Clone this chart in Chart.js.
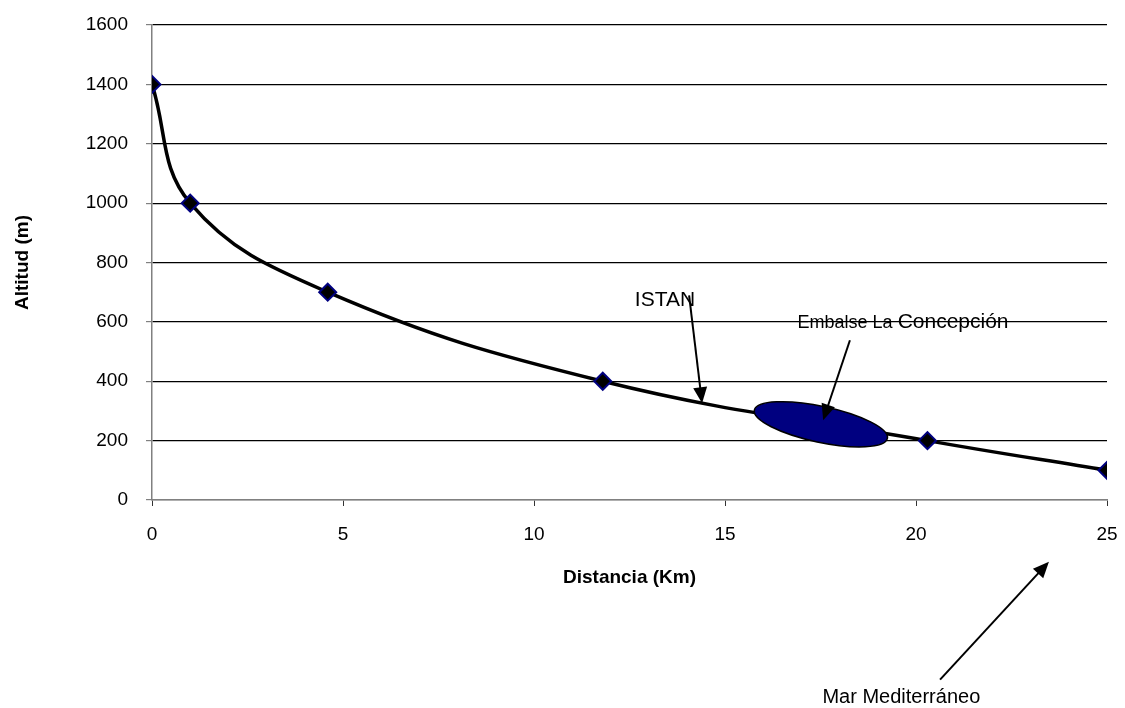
<!DOCTYPE html>
<html>
<head>
<meta charset="utf-8">
<script src="https://cdn.jsdelivr.net/npm/chart.js@4/dist/chart.umd.min.js"></script>
<style>
  body { margin: 0; background: #fff; }
</style>
</head>
<body>
<canvas id="perfil" width="1125" height="708"></canvas>
<script>
// Perfil del río: distancia recorrida (km) y altitud (m)
const distancia = [0, 1.0, 4.6, 11.8, 20.3, 25];
const altitud = [1400, 1000, 700, 400, 200, 100];

const ticksX = [0, 5, 10, 15, 20, 25];
const ticksY = [0, 200, 400, 600, 800, 1000, 1200, 1400, 1600];

// Rótulos y flechas, en unidades de los ejes
const rotulos = [
    { partes: [['ISTAN', 21]], x: 12.64, y: 655 },
    { partes: [['Embalse La ', 18], ['Concepción', 21]], x: 16.9, y: 578 },
    { partes: [['Mar Mediterráneo', 20]], x: 17.55, y: -685 }
];
const flechas = [
    { desde: [14.06, 689], hasta: [14.4, 326] },
    { desde: [18.27, 538], hasta: [17.57, 269] },
    { desde: [20.63, -605], hasta: [23.48, -208] }
];
const embalse = { x: 17.51, y: 255 };

const fuente = "'Liberation Sans', Arial, sans-serif";
Chart.defaults.font.family = fuente;
Chart.defaults.color = '#000';

function flecha(ctx, x1, y1, x2, y2) {
    const ang = Math.atan2(y2 - y1, x2 - x1);
    const largo = 16, ancho = 7;
    ctx.beginPath();
    ctx.moveTo(x1, y1);
    ctx.lineTo(x2 - Math.cos(ang) * largo * 0.8, y2 - Math.sin(ang) * largo * 0.8);
    ctx.lineWidth = 2;
    ctx.strokeStyle = '#000';
    ctx.stroke();
    ctx.beginPath();
    ctx.moveTo(x2, y2);
    ctx.lineTo(x2 - Math.cos(ang) * largo + Math.sin(ang) * ancho, y2 - Math.sin(ang) * largo - Math.cos(ang) * ancho);
    ctx.lineTo(x2 - Math.cos(ang) * largo - Math.sin(ang) * ancho, y2 - Math.sin(ang) * largo + Math.cos(ang) * ancho);
    ctx.closePath();
    ctx.fillStyle = '#000';
    ctx.fill();
}

const anotaciones = {
    id: 'anotaciones',
    afterDatasetsDraw(chart) {
        const ctx = chart.ctx;
        const sx = chart.scales.x, sy = chart.scales.y;
        ctx.save();

        // embalse (elipse azul sobre el perfil)
        ctx.beginPath();
        ctx.ellipse(sx.getPixelForValue(embalse.x), sy.getPixelForValue(embalse.y), 68, 18, 12 * Math.PI / 180, 0, Math.PI * 2);
        ctx.fillStyle = '#000080';
        ctx.fill();
        ctx.lineWidth = 1.5;
        ctx.strokeStyle = '#000';
        ctx.stroke();

        flechas.forEach(f => {
            flecha(ctx,
                sx.getPixelForValue(f.desde[0]), sy.getPixelForValue(f.desde[1]),
                sx.getPixelForValue(f.hasta[0]), sy.getPixelForValue(f.hasta[1]));
        });

        ctx.fillStyle = '#000';
        ctx.textBaseline = 'alphabetic';
        ctx.textAlign = 'left';
        rotulos.forEach(r => {
            let px = sx.getPixelForValue(r.x);
            const py = sy.getPixelForValue(r.y);
            r.partes.forEach(([txt, size]) => {
                ctx.font = size + 'px ' + fuente;
                ctx.fillText(txt, px, py);
                px += ctx.measureText(txt).width;
            });
        });
        ctx.restore();
    }
};

new Chart(document.getElementById('perfil'), {
    type: 'line',
    data: {
        datasets: [{
            label: 'Altitud',
            data: distancia.map((d, i) => ({ x: d, y: altitud[i] })),
            borderColor: '#000',
            borderWidth: 3.5,
            tension: 0.4,
            pointStyle: 'rectRot',
            pointRadius: 8.5,
            pointBackgroundColor: '#000',
            pointBorderColor: '#000080',
            pointBorderWidth: 2
        }]
    },
    options: {
        responsive: false,
        animation: false,
        layout: { padding: { left: 0, right: 18, top: 25, bottom: 119 } },
        plugins: {
            legend: { display: false },
            tooltip: { enabled: false }
        },
        scales: {
            x: {
                type: 'linear',
                min: 0,
                max: 25,
                afterBuildTicks: s => { s.ticks = ticksX.map(v => ({ value: v })); },
                afterFit: s => { s.height = 89; s.paddingLeft = 0; s.paddingRight = 0; },
                grid: { drawOnChartArea: false, tickLength: 6, tickColor: '#333' },
                border: { color: '#808080', width: 1.5 },
                ticks: { font: { size: 19 }, padding: 17, callback: v => String(v) },
                title: { display: true, text: 'Distancia (Km)', font: { size: 19, weight: 'bold' }, padding: 0 }
            },
            y: {
                min: 0,
                max: 1600,
                afterBuildTicks: s => { s.ticks = ticksY.map(v => ({ value: v })); },
                afterFit: s => { s.width = 152; s.paddingTop = 0; s.paddingBottom = 0; },
                grid: {
                    color: c => c.tick && c.tick.value === 0 ? '#808080' : '#000',
                    tickColor: '#808080',
                    tickLength: 6,
                    lineWidth: 1.2
                },
                border: { color: '#808080', width: 1.5 },
                ticks: { font: { size: 19 }, padding: 18, callback: v => String(v) },
                title: { display: true, text: 'Altitud (m)', font: { size: 19, weight: 'bold' }, padding: { top: 11 } }
            }
        }
    },
    plugins: [anotaciones]
});
</script>
</body>
</html>
